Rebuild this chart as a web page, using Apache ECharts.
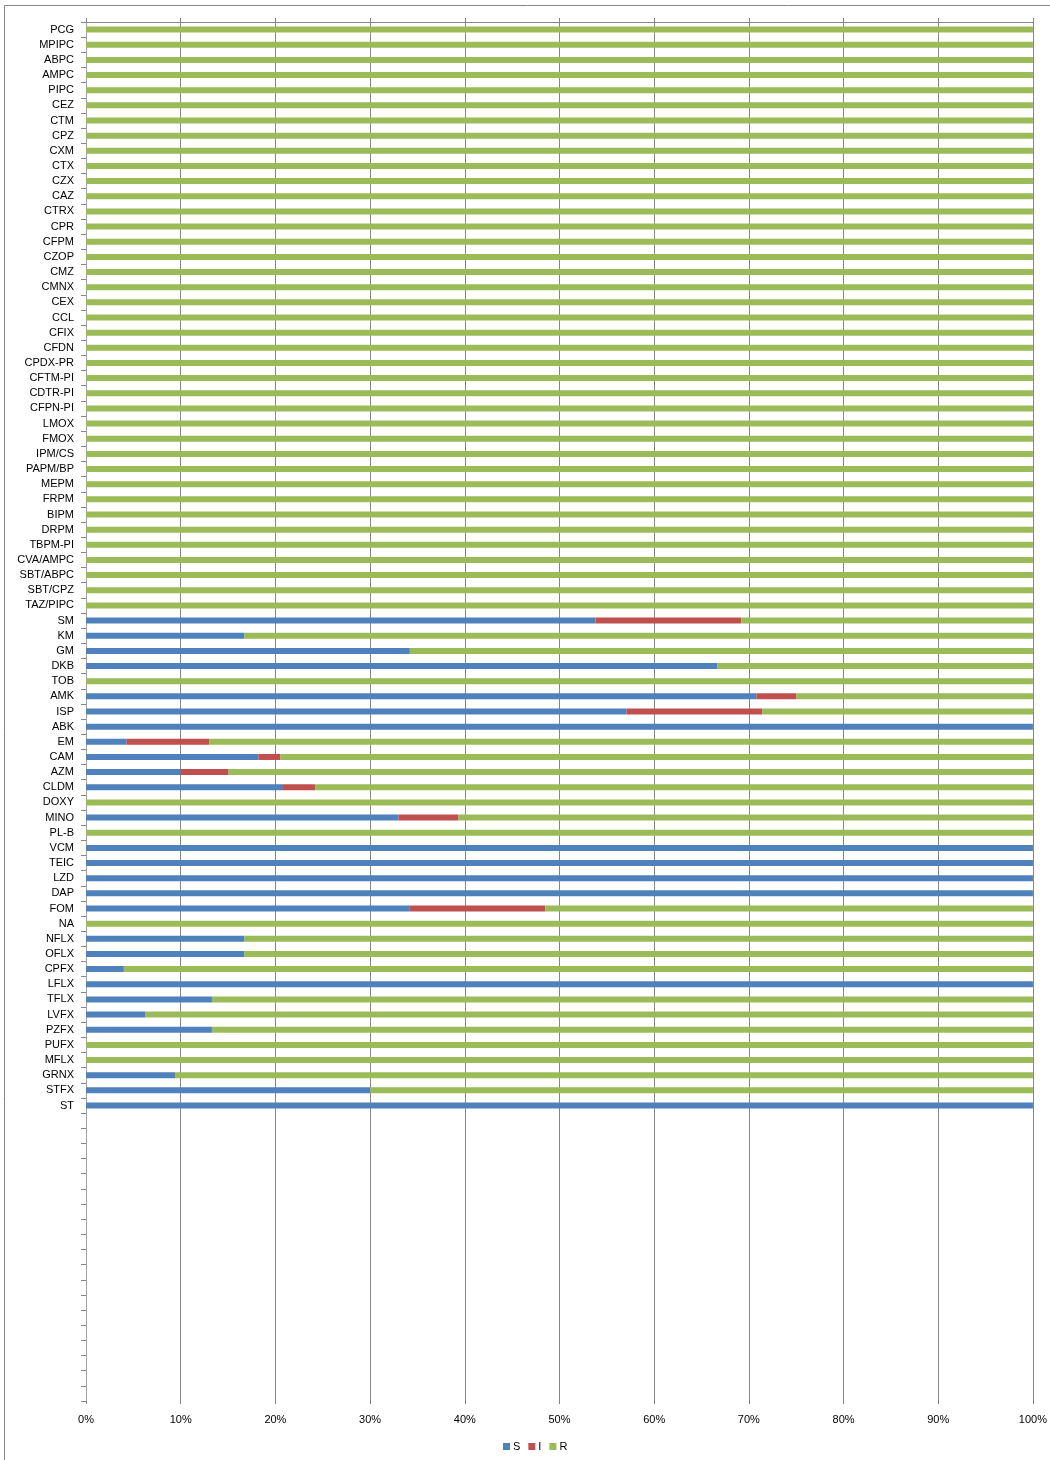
<!DOCTYPE html>
<html>
<head>
<meta charset="utf-8">
<script src="https://cdn.jsdelivr.net/npm/echarts@6/dist/echarts.min.js"></script>
<style>
html,body{margin:0;padding:0;background:#fff;}
#chart{width:1050px;height:1460px;}
</style>
</head>
<body>
<div id="chart"></div>
<script>
const categories = [
  'PCG','MPIPC','ABPC','AMPC','PIPC','CEZ','CTM','CPZ','CXM','CTX',
  'CZX','CAZ','CTRX','CPR','CFPM','CZOP','CMZ','CMNX','CEX','CCL',
  'CFIX','CFDN','CPDX-PR','CFTM-PI','CDTR-PI','CFPN-PI','LMOX','FMOX','IPM/CS','PAPM/BP',
  'MEPM','FRPM','BIPM','DRPM','TBPM-PI','CVA/AMPC','SBT/ABPC','SBT/CPZ','TAZ/PIPC','SM',
  'KM','GM','DKB','TOB','AMK','ISP','ABK','EM','CAM','AZM',
  'CLDM','DOXY','MINO','PL-B','VCM','TEIC','LZD','DAP','FOM','NA',
  'NFLX','OFLX','CPFX','LFLX','TFLX','LVFX','PZFX','PUFX','MFLX','GRNX',
  'STFX','ST'
];
// number of blank category slots below the last row
const blankSlots = 19;

const valS = [
  0,0,0,0,0,0,0,0,0,0,
  0,0,0,0,0,0,0,0,0,0,
  0,0,0,0,0,0,0,0,0,0,
  0,0,0,0,0,0,0,0,0,53.8,
  16.7,34.2,66.7,0,70.8,57.1,100,4.3,18.2,10.0,
  20.8,0,33.0,0,100,100,100,100,34.2,0,
  16.7,16.7,4.0,100,13.3,6.3,13.3,0,0,9.4,
  30.0,100
];
const valI = [
  0,0,0,0,0,0,0,0,0,0,
  0,0,0,0,0,0,0,0,0,0,
  0,0,0,0,0,0,0,0,0,0,
  0,0,0,0,0,0,0,0,0,15.4,
  0,0,0,0,4.2,14.3,0,8.7,2.3,5.0,
  3.4,0,6.3,0,0,0,0,0,14.3,0,
  0,0,0,0,0,0,0,0,0,0,
  0,0
];
const valR = [
  100,100,100,100,100,100,100,100,100,100,
  100,100,100,100,100,100,100,100,100,100,
  100,100,100,100,100,100,100,100,100,100,
  100,100,100,100,100,100,100,100,100,30.8,
  83.3,65.8,33.3,100,25.0,28.6,0,87.0,79.5,85.0,
  75.8,100,60.7,100,0,0,0,0,51.5,100,
  83.3,83.3,96.0,0,86.7,93.7,86.7,100,100,90.6,
  70.0,0
];
const xTicks = ['0%','10%','20%','30%','40%','50%','60%','70%','80%','90%','100%'];

const axisCats = categories.slice();
for (let i = 0; i < blankSlots; i++) axisCats.push(' '.repeat(i + 1));

const FONT = 'Liberation Sans';
const GRAY = '#868686';

const chart = echarts.init(document.getElementById('chart'), null, {renderer: 'canvas'});
const barCommon = {type: 'bar', stack: 'total', barWidth: 6, xAxisIndex: 0, yAxisIndex: 0};
chart.setOption({
  animation: false,
  textStyle: {fontFamily: FONT},
  grid: {left: 86, right: 17, top: 22, bottom: 59, containLabel: false},
  legend: {
    data: ['S','I','R'],
    left: 503, top: 1441, padding: 0,
    itemWidth: 7, itemHeight: 7, itemGap: 8,
    icon: 'rect',
    textStyle: {fontFamily: FONT, fontSize: 11, color: '#000', padding: [0,0,0,-2]}
  },
  xAxis: [{
    type: 'value', min: 0, max: 100, interval: 10, position: 'bottom',
    axisLine: {show: false},
    axisTick: {show: true, length: 3, lineStyle: {color: GRAY}},
    axisLabel: {fontFamily: FONT, fontSize: 11, color: '#000', margin: 13,
      formatter: function (v) { return xTicks[Math.round(v / 10)]; }},
    splitLine: {show: true, lineStyle: {color: GRAY, width: 1}}
  }, {
    type: 'value', min: 0, max: 100, interval: 10, position: 'top',
    axisLine: {show: true, lineStyle: {color: GRAY}},
    axisTick: {show: true, length: 4, lineStyle: {color: GRAY}},
    axisLabel: {show: false},
    splitLine: {show: false}
  }],
  yAxis: {
    type: 'category', inverse: true, data: axisCats,
    axisLine: {show: true, lineStyle: {color: '#a0a0a0', width: 1}},
    axisTick: {show: true, interval: 0, length: 5, lineStyle: {color: GRAY}},
    axisLabel: {interval: 0, fontFamily: FONT, fontSize: 11, color: '#000', margin: 12},
    splitLine: {show: false}
  },
  series: [
    Object.assign({name: 'S', data: valS, itemStyle: {color: '#4F81BD'}}, barCommon),
    Object.assign({name: 'I', data: valI, itemStyle: {color: '#C0504D'}}, barCommon),
    Object.assign({name: 'R', data: valR, itemStyle: {color: '#9BBB59'}}, barCommon)
  ],
  graphic: [
    {type: 'line', shape: {x1: 4.5, y1: 5.5, x2: 1050, y2: 5.5}, style: {stroke: GRAY, lineWidth: 1}, silent: true},
    {type: 'line', shape: {x1: 4.5, y1: 5.5, x2: 4.5, y2: 1460}, style: {stroke: GRAY, lineWidth: 1}, silent: true}
  ]
});
</script>
</body>
</html>
